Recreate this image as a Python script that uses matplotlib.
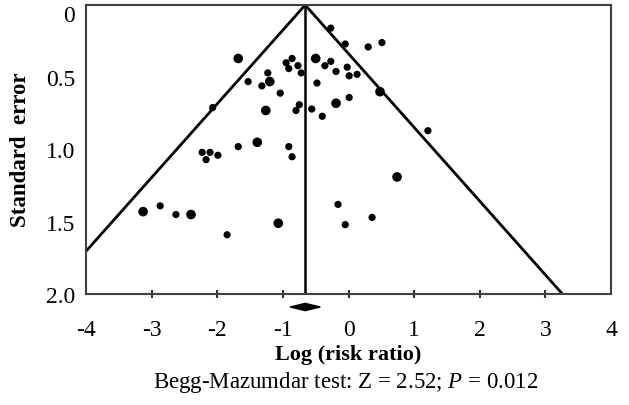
import matplotlib
matplotlib.use("Agg")
import matplotlib.pyplot as plt
import numpy as np

# Data (log risk ratio, standard error)
log_rr = [-0.27, -0.05, 0.30, 0.51, -0.50, -0.36, -0.27, -0.19, -0.02, 0.01,
          0.13, -0.48, 0.48, 0.01, -0.19, -0.56, -0.40, 1.21, 0.74, -0.16,
          -0.05, 0.36, -1.07, -3.13, -2.87, -2.63, -2.40, -1.85, -2.23, -2.17,
          -2.11, -1.99, -1.68, -1.39, -0.91, -0.86, -1.68, -1.53, -2.07, -1.32,
          -1.23, -1.20, -1.04, -1.26, -0.95, -0.91, -0.86, -0.77, -0.72, -0.75,
          -0.80]
std_err = [0.16, 0.27, 0.29, 0.26, 0.37, 0.42, 0.39, 0.46, 0.43, 0.49,
           0.48, 0.54, 0.60, 0.64, 0.68, 0.72, 0.77, 0.87, 1.19, 1.38,
           1.52, 1.47, 1.51, 1.43, 1.39, 1.45, 1.45, 1.59, 1.02, 1.07,
           1.02, 1.04, 0.98, 0.95, 0.98, 1.05, 0.37, 0.53, 0.71, 0.56,
           0.47, 0.53, 0.61, 0.73, 0.40, 0.44, 0.37, 0.42, 0.47, 0.69,
           0.73]
is_large = [0, 0, 0, 0, 1, 0, 0, 0, 0, 0,
            0, 0, 1, 0, 1, 0, 0, 0, 1, 0,
            0, 0, 1, 1, 0, 0, 1, 0, 0, 0,
            0, 0, 0, 1, 0, 0, 1, 0, 0, 0,
            0, 1, 0, 1, 0, 0, 0, 0, 0, 0,
            0]
pooled = -0.66
pooled_ci = [-0.89, -0.43]

x_ticks = [-4, -3, -2, -1, 0, 1, 2, 3, 4]
x_tick_labels = ["-4", "-3", "-2", "-1", "0", "1", "2", "3", "4"]
y_ticks = [0, 0.5, 1.0, 1.5, 2.0]
y_tick_labels = ["0", "0.5", "1.0", "1.5", "2.0"]

plt.rcParams['font.family'] = ['Liberation Serif', 'DejaVu Serif']
plt.rcParams['mathtext.fontset'] = 'custom'
plt.rcParams['mathtext.rm'] = 'Liberation Serif'
plt.rcParams['mathtext.it'] = 'Liberation Serif:italic'

fig = plt.figure(figsize=(6.29, 4.06), dpi=100)
ax = fig.add_axes([86/629, 1-295/406, (611-86)/629, (295-6)/406])

ax.set_xlim(-4, 4)
ax.set_ylim(2.0, 0)

# funnel
se_max = 2.0
ax.plot([pooled - 1.96*se_max, pooled, pooled + 1.96*se_max], [se_max, 0, se_max],
        color='black', lw=2.0, solid_joinstyle='miter', zorder=2)
ax.plot([pooled, pooled], [0, se_max], color='black', lw=1.8, zorder=2)

sizes = [48 if l else 27 for l in is_large]
ax.scatter(log_rr, std_err, s=sizes, color='black', edgecolors='none', zorder=3)

# pooled estimate diamond below the axis
d_y = 2.09
d_h = 0.025
ax.fill([pooled_ci[0], pooled, pooled_ci[1], pooled],
        [d_y, d_y - d_h, d_y, d_y + d_h], color='black', clip_on=False, zorder=4)

for s in ax.spines.values():
    s.set_color('#404040')
    s.set_linewidth(1.5)

ax.set_xticks(x_ticks)
ax.set_xticklabels(x_tick_labels)
ax.set_yticks(y_ticks)
ax.set_yticklabels(y_tick_labels)
ax.tick_params(axis='x', direction='inout', length=6, width=1.5, color='#303030',
               pad=15, labelsize=17)
ax.tick_params(axis='y', length=0, pad=8, labelsize=17)
ax.get_yticklabels()[0].set_verticalalignment('top')
# hide the tick marks at the spine ends
for t in ax.xaxis.get_major_ticks():
    if t.get_loc() in (-4, 4):
        t.tick1line.set_visible(False)
        t.tick2line.set_visible(False)

fig.text(348/629, 1-355/406, "Log (risk ratio)", ha='center', va='center',
         fontsize=16, fontweight='bold')
fig.text(21/629, 1-150/406, "Standard  error", ha='center', va='center',
         rotation=90, fontsize=16.5, fontweight='bold')

fig.text(346/629, 1-383/406, "Begg-Mazumdar test: Z = 2.52; $\\mathit{P}$ = 0.012",
         ha='center', va='center', fontsize=16.5)

fig.savefig("out.png", dpi=100)
